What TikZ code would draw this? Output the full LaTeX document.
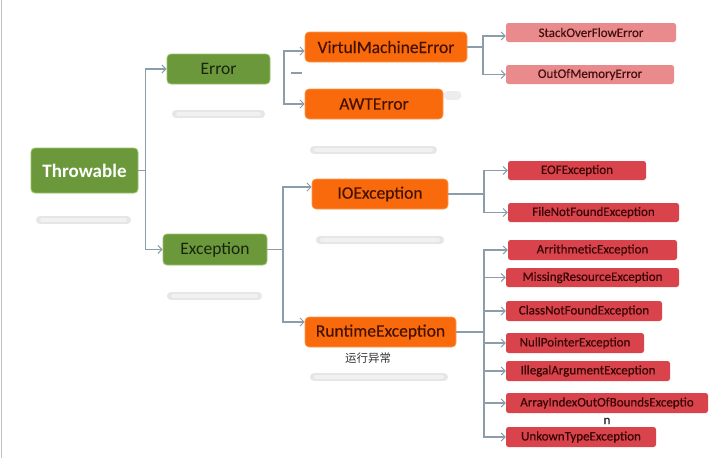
\documentclass[tikz,border=0pt]{standalone}
\usepackage{fontspec}
\setmainfont{Carlito}
\newfontfamily\semib[FakeBold=0.35]{Carlito}
\newfontfamily\cjk{Noto Sans CJK SC}
\usetikzlibrary{arrows.meta,calc}
\definecolor{grn}{HTML}{6A983A}
\definecolor{grnline}{HTML}{9CC46A}
\definecolor{org}{HTML}{F96A0C}
\definecolor{orgline}{HTML}{FF9A50}
\definecolor{pnk}{HTML}{E98A8C}
\definecolor{redb}{HTML}{D9434B}
\definecolor{conn}{HTML}{8C9CA8}
\definecolor{shad}{HTML}{E6E6E6}
\tikzset{
  box/.style={rounded corners=4pt, inner sep=0pt, align=center},
  gbox/.style={box, fill=grn, draw=grnline, line width=0.8pt, font=\fontsize{17.5}{20}\selectfont, text={rgb,255:red,25;green,35;blue,15}},
  obox/.style={box, fill=org, draw=orgline, line width=0.6pt, font=\semib\fontsize{17.5}{20}\selectfont, text={rgb,255:red,70;green,18;blue,0}},
  pbox/.style={box, rounded corners=2.5pt, fill=pnk, minimum height=19pt, font=\semib\fontsize{13}{15}\selectfont, text={rgb,255:red,70;green,15;blue,15}},
  rbox/.style={box, rounded corners=2.5pt, fill=redb, minimum height=20pt, font=\semib\fontsize{13}{15}\selectfont, text={rgb,255:red,55;green,5;blue,5}},
  link/.style={draw=conn, line width=1.1pt},
  arr/.style={link, -{Straight Barb[length=4pt,width=8pt,line width=1pt]}},
  blur/.style={line cap=round, draw=shad, line width=8pt},
  blurc/.style={line cap=round, draw=shad!60!black!12, line width=4pt},
}
\begin{document}
\begin{tikzpicture}[x=1pt,y=-1pt]
\useasboundingbox (0,0) rectangle (718,458);
\fill[white] (0,0) rectangle (718,458);
\draw[draw=black!25, line width=1pt] (1.5,0) -- (1.5,458);

% soft reflections
\foreach \xa/\xb/\yy in {40/127/220, 176/261/114, 171/258/296, 314/433/150, 320/440/240, 314/444/377}{
  \draw[blur] (\xa,\yy) -- (\xb,\yy);
  \draw[blurc] (\xa+2,\yy) -- (\xb-2,\yy);
}
\draw[blur, line width=9pt, draw=shad!70] (448,95) -- (457,95);

% main nodes
\node[gbox, minimum width=107pt, minimum height=45pt, text=white, font=\fontsize{19}{22}\selectfont\bfseries] (thr) at (84.5,170.5) {Throwable};
\node[gbox, minimum width=103pt, minimum height=30pt] (err) at (218.5,69) {Error};
\node[gbox, minimum width=104pt, minimum height=31pt] (exc) at (215,249.5) {Exception};

\node[obox, minimum width=162pt, minimum height=30pt] (vme) at (386,47) {VirtulMachineError};
\node[obox, minimum width=138pt, minimum height=30pt] (awt) at (374,104) {AWTError};
\node[obox, minimum width=136pt, minimum height=30pt] (ioe) at (380,194) {IOException};
\node[obox, minimum width=151pt, minimum height=30pt] (rte) at (380.5,332) {RuntimeException};
\node[font=\cjk\fontsize{11.5}{13}\selectfont, text=black!80, inner sep=0pt] (rtl) at (368,358) {运行异常};

\node[pbox, minimum width=170pt] (sof) at (591,32.5) {StackOverFlowError};
\node[pbox, minimum width=168pt] (oom) at (590,74.5) {OutOfMemoryError};

\node[rbox, minimum width=138pt, minimum height=19pt] (eof) at (577,170.5) {EOFException};
\node[rbox, minimum width=171pt, minimum height=19pt] (fnf) at (593.5,212.5) {FileNotFoundException};

\node[rbox, minimum width=169pt] (ari) at (592.5,250) {ArrithmeticException};
\node[rbox, minimum width=173pt, minimum height=19pt] (mis) at (592.5,277.5) {MissingResourceException};
\node[rbox, minimum width=156pt] (cnf) at (584,311) {ClassNotFoundException};
\node[rbox, minimum width=138pt] (npe) at (575,343) {NullPointerException};
\node[rbox, minimum width=164pt] (iae) at (588,371) {IllegalArgumentException};
\node[rbox, minimum width=202pt] (aio) at (607,403) {ArrayIndexOutOfBoundsExceptio};
\node[font=\semib\fontsize{13}{15}\selectfont, text=black!85, inner sep=0pt] (aion) at (607,421) {n};
\node[rbox, minimum width=150pt] (ukt) at (581,437) {UnkownTypeException};

% connectors
\coordinate (j1) at (145.5,170.5);
\draw[link] (thr.east) -- (j1);
\draw[arr] (j1) |- (err.west);
\draw[arr] (j1) |- (exc.west);

\coordinate (j2) at (284,73);
\draw[arr] (j2) |- ([yshift=-4pt]vme.west);
\draw[arr] (j2) |- (awt.west);
\coordinate (d1) at (291,73);
\coordinate (d2) at (302,73);
\draw[link] (d1) -- (d2);

\coordinate (j3) at (283,249.5);
\draw[link] (exc.east) -- (j3);
\draw[arr] (j3) |- ([yshift=7pt]ioe.west);
\draw[arr] (j3) |- ([yshift=10pt]rte.west);

\coordinate (j4) at (483,47);
\draw[link] (vme.east) -- (j4);
\draw[arr] (j4) |- ([yshift=-3.5pt]sof.west);
\draw[arr] (j4) |- (oom.west);

\coordinate (j5) at (484,194);
\draw[link] (ioe.east) -- (j5);
\draw[arr] (j5) |- (eof.west);
\draw[arr] (j5) |- (fnf.west);

\coordinate (j6) at (484,332);
\draw[link] (rte.east) -- (j6);
\foreach \n in {ari,mis,cnf,npe,iae,aio,ukt}{
  \draw[arr] (j6) |- (\n.west);
}
\end{tikzpicture}
\end{document}
